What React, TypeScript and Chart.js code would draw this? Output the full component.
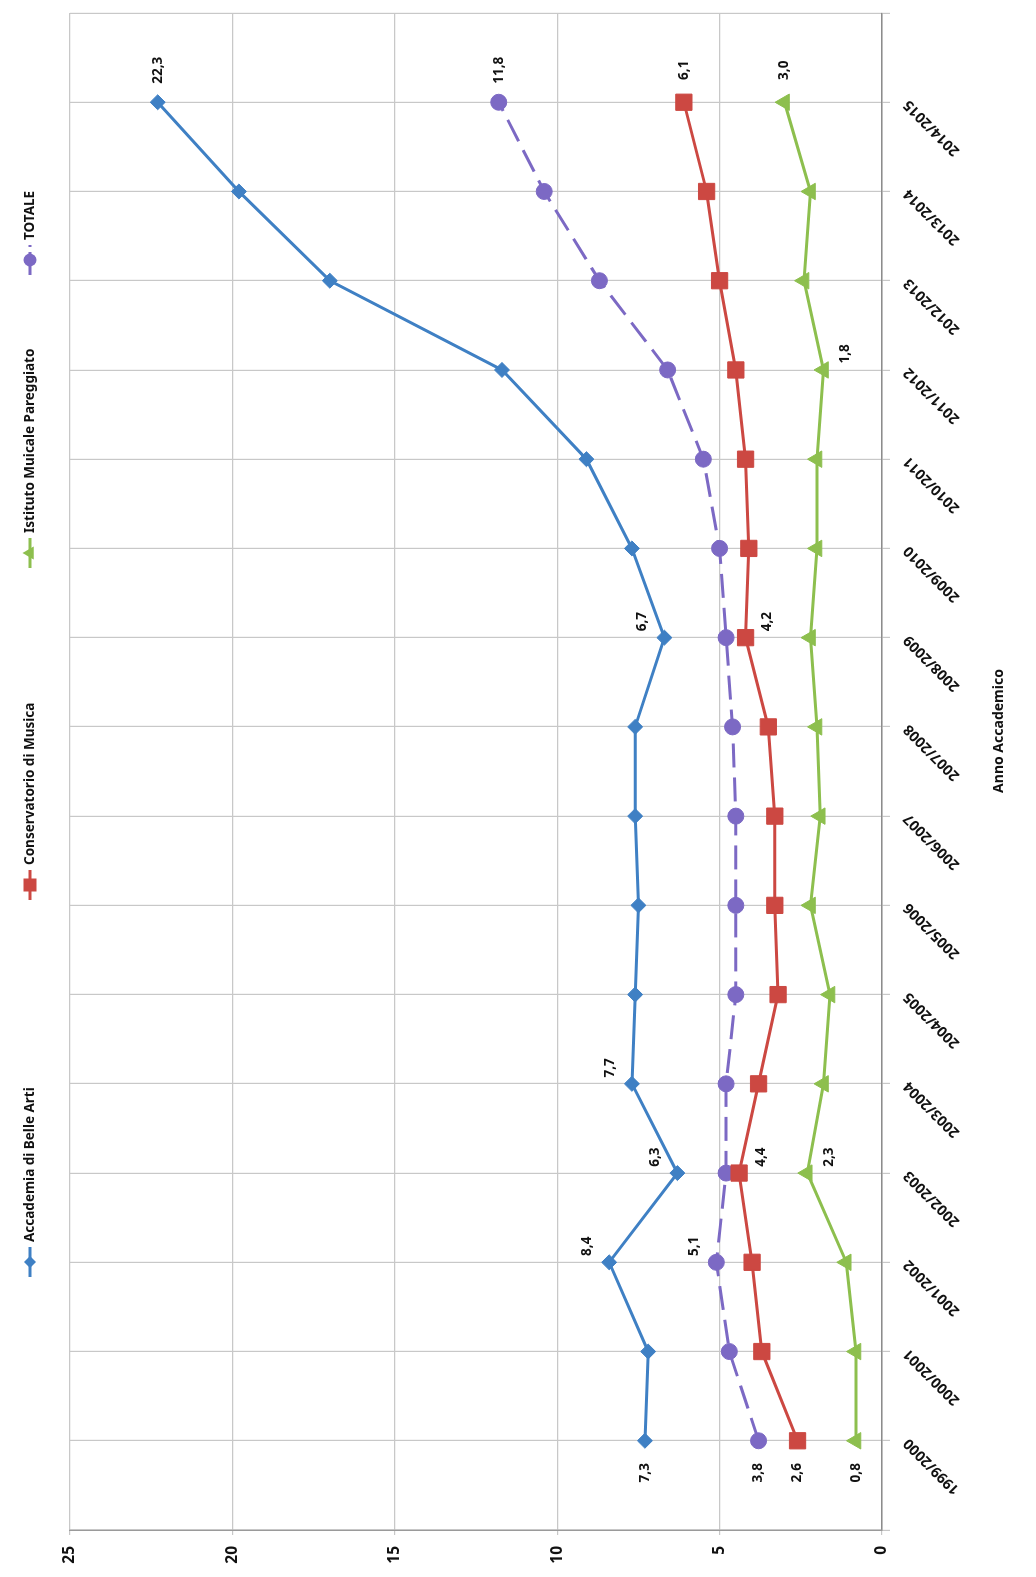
import { useEffect, useRef } from 'react';
import { Chart, registerables } from 'chart.js';

Chart.register(...registerables);

// Academic years on the category axis
const years = [
  '1999/2000', '2000/2001', '2001/2002', '2002/2003', '2003/2004', '2004/2005',
  '2005/2006', '2006/2007', '2007/2008', '2008/2009', '2009/2010', '2010/2011',
  '2011/2012', '2012/2013', '2013/2014', '2014/2015',
];

// Series values per academic year
const accademia = [7.3, 7.2, 8.4, 6.3, 7.7, 7.6, 7.5, 7.6, 7.6, 6.7, 7.7, 9.1, 11.7, 17.0, 19.8, 22.3];
const conservatorio = [2.6, 3.7, 4.0, 4.4, 3.8, 3.2, 3.3, 3.3, 3.5, 4.2, 4.1, 4.2, 4.5, 5.0, 5.4, 6.1];
const istituto = [0.8, 0.8, 1.1, 2.3, 1.8, 1.6, 2.2, 1.9, 2.0, 2.2, 2.0, 2.0, 1.8, 2.4, 2.2, 3.0];
const totale = [3.8, 4.7, 5.1, 4.8, 4.8, 4.5, 4.5, 4.5, 4.6, 4.8, 5.0, 5.5, 6.6, 8.7, 10.4, 11.8];

const seriesNames = [
  'Accademia di Belle Arti',
  'Conservatorio di Musica',
  'Istituto Muicale Pareggiato',
  'TOTALE',
];

// Value axis range and step
const valueMin = 0;
const valueMax = 25;
const valueStep = 5;

// Which points carry a value label: [series, year index, placement]
const labelledPoints: [number, number, string][] = [
  [0, 0, 'left'], [0, 2, 'above'], [0, 3, 'above'], [0, 4, 'above'], [0, 9, 'above'], [0, 15, 'right'],
  [1, 0, 'left'], [1, 3, 'below'], [1, 9, 'below'], [1, 15, 'right'],
  [2, 0, 'left'], [2, 3, 'below'], [2, 12, 'below'], [2, 15, 'right'],
  [3, 0, 'left'], [3, 2, 'above'], [3, 15, 'right'],
];

const FONT = "'Noto Sans', 'Liberation Sans', sans-serif";
const W = 1577;
const H = 1036;

const COLORS = ['#3F80C4', '#CC4842', '#8DBF4E', '#7C69C4'];

// blank slot at both ends so the plot keeps a margin of one year on each side
const padded = (arr: any[], blank: any) => [blank, ...arr, blank];

const fmt = (v: number) => v.toFixed(1).replace('.', ',');

function drawMarker(ctx: CanvasRenderingContext2D, style: string, x: number, y: number, r: number) {
  ctx.beginPath();
  if (style === 'rectRot') {
    ctx.moveTo(x, y - r); ctx.lineTo(x + r, y); ctx.lineTo(x, y + r); ctx.lineTo(x - r, y);
    ctx.closePath();
  } else if (style === 'rect') {
    const s = r * Math.SQRT1_2;
    ctx.rect(x - s, y - s, 2 * s, 2 * s);
  } else if (style === 'triangle') {
    ctx.moveTo(x, y - r);
    ctx.lineTo(x + r * 0.866, y + r * 0.5);
    ctx.lineTo(x - r * 0.866, y + r * 0.5);
    ctx.closePath();
  } else {
    ctx.arc(x, y, r, 0, Math.PI * 2);
  }
  ctx.fill();
}

const legendPlugin = {
  id: 'seriesLegend',
  afterDraw(chart: any) {
    const ctx: CanvasRenderingContext2D = chart.ctx;
    const starts = [300, 677, 1009, 1302];
    const y = 30;
    chart.data.datasets.forEach((ds: any, i: number) => {
      const x0 = starts[i];
      ctx.save();
      ctx.strokeStyle = ds.borderColor;
      ctx.lineWidth = 3;
      ctx.setLineDash(ds.borderDash ? [9, 5] : []);
      ctx.beginPath();
      ctx.moveTo(x0, y);
      ctx.lineTo(x0 + 30, y);
      ctx.stroke();
      ctx.setLineDash([]);
      ctx.fillStyle = ds.pointBackgroundColor;
      drawMarker(ctx, ds.pointStyle, x0 + 15, y, ds.pointRadius * 0.8);
      ctx.fillStyle = '#111';
      ctx.font = `bold 13.5px ${FONT}`;
      ctx.textAlign = 'left';
      ctx.textBaseline = 'middle';
      ctx.fillText(ds.label, x0 + 35, y);
      ctx.restore();
    });
  },
};

const valueLabelPlugin = {
  id: 'valueLabels',
  afterDatasetsDraw(chart: any) {
    const ctx: CanvasRenderingContext2D = chart.ctx;
    ctx.save();
    ctx.font = `bold 13.5px ${FONT}`;
    ctx.fillStyle = '#111';
    ctx.textAlign = 'center';
    ctx.textBaseline = 'middle';
    labelledPoints.forEach(([ds, idx, place]) => {
      const el = chart.getDatasetMeta(ds).data[idx + 1];
      const v = chart.data.datasets[ds].data[idx + 1];
      if (!el || v == null) return;
      let dx = 0;
      let dy = 0;
      if (place === 'left') dx = -32;
      else if (place === 'right') dx = 32;
      else if (place === 'above') { dx = 16; dy = -22; }
      else if (place === 'below') { dx = 16; dy = 22; }
      ctx.fillText(fmt(v), el.x + dx, el.y + dy);
    });
    ctx.restore();
  },
};

const axisTitlePlugin = {
  id: 'categoryTitle',
  afterDraw(chart: any) {
    const ctx: CanvasRenderingContext2D = chart.ctx;
    ctx.save();
    ctx.font = `bold 14px ${FONT}`;
    ctx.fillStyle = '#111';
    ctx.textAlign = 'center';
    ctx.textBaseline = 'middle';
    ctx.fillText('Anno Accademico', 846, 999);
    ctx.restore();
  },
};

export default function App() {
  const ref = useRef<HTMLCanvasElement | null>(null);

  useEffect(() => {
    if (!ref.current) return;
    Chart.defaults.font.family = FONT;
    const series = [accademia, conservatorio, istituto, totale];
    const styles = ['rectRot', 'rect', 'triangle', 'circle'];
    const radii = [7.5, 11.5, 9.5, 8];
    const chart = new Chart(ref.current, {
      type: 'line',
      data: {
        labels: padded(years, ''),
        datasets: series.map((s, i) => ({
          label: seriesNames[i],
          data: padded(s, null),
          borderColor: COLORS[i],
          backgroundColor: COLORS[i],
          pointBackgroundColor: COLORS[i],
          pointBorderColor: COLORS[i],
          pointBorderWidth: 1,
          pointStyle: styles[i],
          pointRadius: radii[i],
          borderWidth: 3,
          borderDash: i === 3 ? [24, 10] : undefined,
          fill: false,
          tension: 0,
        })),
      },
      options: {
        responsive: false,
        animation: false,
        layout: { padding: { top: 70, right: 13, left: 0, bottom: 0 } },
        plugins: {
          legend: { display: false },
          tooltip: { enabled: false },
        },
        scales: {
          x: {
            type: 'category',
            offset: false,
            grid: { color: '#C8C8C8', lineWidth: 1.2, tickLength: 8, drawTicks: true },
            border: { display: true, color: '#8C8C8C', width: 1.5 },
            ticks: {
              autoSkip: false,
              minRotation: 45,
              maxRotation: 45,
              padding: 11,
              color: '#111',
              font: { size: 14.5, weight: 'bold', lineHeight: 1 },
            },
            afterFit: (scale: any) => {
              scale.height = 154;
              scale.paddingLeft = 0;
              scale.paddingRight = 0;
            },
          },
          y: {
            min: valueMin,
            max: valueMax,
            grid: { color: '#C8C8C8', lineWidth: 1.2, tickLength: 5 },
            border: { display: true, color: '#9A9A9A', width: 1.5 },
            ticks: {
              stepSize: valueStep,
              padding: 11,
              color: '#111',
              font: { size: 15.5, weight: 'bold' },
            },
            afterFit: (scale: any) => {
              scale.width = 47;
              scale.paddingTop = 0;
              scale.paddingBottom = 0;
            },
          },
        },
      },
      plugins: [valueLabelPlugin, legendPlugin, axisTitlePlugin],
    } as any);
    return () => chart.destroy();
  }, []);

  return (
    <div style={{ position: 'absolute', left: 0, top: 0, width: 1036, height: 1577, overflow: 'hidden', background: '#fff' }}>
      <div
        style={{
          position: 'absolute',
          left: 0,
          top: 0,
          width: W,
          height: H,
          transformOrigin: '0 0',
          transform: `translateY(${W}px) rotate(-90deg)`,
        }}
      >
        <canvas ref={ref} width={W} height={H} style={{ display: 'block', width: W, height: H }} />
      </div>
    </div>
  );
}
